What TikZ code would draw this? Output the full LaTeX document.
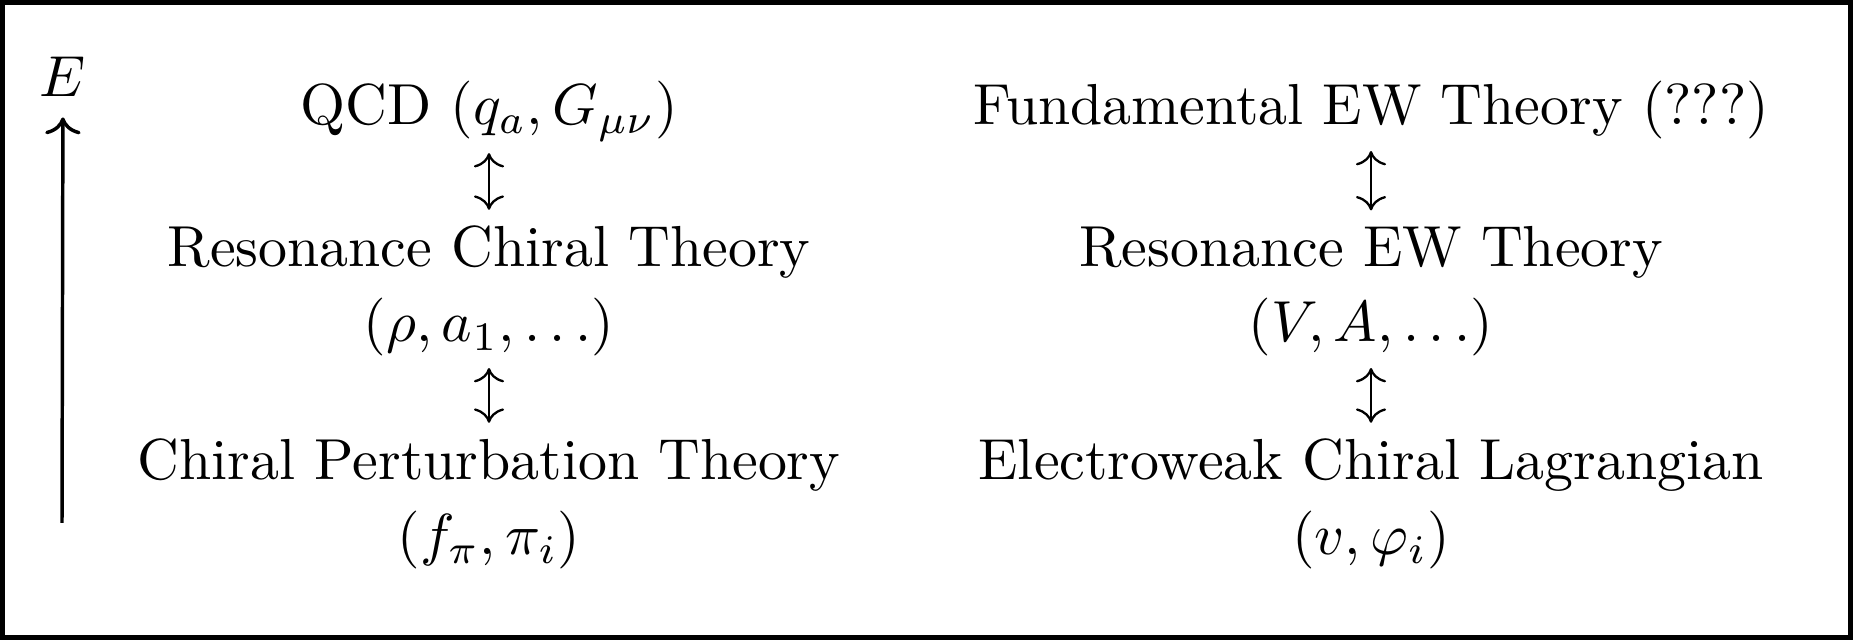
\documentclass[tikz,border=0pt]{standalone}
\usetikzlibrary{arrows.meta, positioning}

\begin{document}
\begin{tikzpicture}[
    x=0.1728pt, y=-0.1728pt,
    theory/.style={anchor=base, align=center, inner sep=0pt, font=\fontsize{10}{13}\selectfont},
    link/.style={<->, shorten <=1.8pt, shorten >=2.6pt},
    frame/.style={line width=0.8pt}
]
\useasboundingbox (0,0) rectangle (1853,640);
\draw[frame] (2.5,2.5) rectangle (1850.5,637.5);

% Energy axis
\node[anchor=base] (energy) at (63,97) {$E$};
\coordinate (ebottom) at (62,523);
\draw[->, line width=0.6pt] (ebottom) -- (energy);

% QCD side (two-line nodes sit on their last line)
\node[theory] (qcd) at (489,125) {QCD $(q_a, G_{\mu\nu})$};
\node[theory] (rct) at (489,342) {Resonance Chiral Theory\\$(\rho, a_1, \dots)$};
\node[theory] (chpt) at (489,555) {Chiral Perturbation Theory\\$(f_\pi, \pi_i)$};

% Electroweak side
\node[theory] (few) at (1371,125) {Fundamental EW Theory (???)};
\node[theory] (rew) at (1371,342) {Resonance EW Theory\\$(V, A, \dots)$};
\node[theory] (ewcl) at (1371,555) {Electroweak Chiral Lagrangian\\$(v, \varphi_i)$};

\draw[link] (qcd) -- (rct);
\draw[link] (rct) -- (chpt);
\draw[link] (few) -- (rew);
\draw[link] (rew) -- (ewcl);

\end{tikzpicture}
\end{document}
